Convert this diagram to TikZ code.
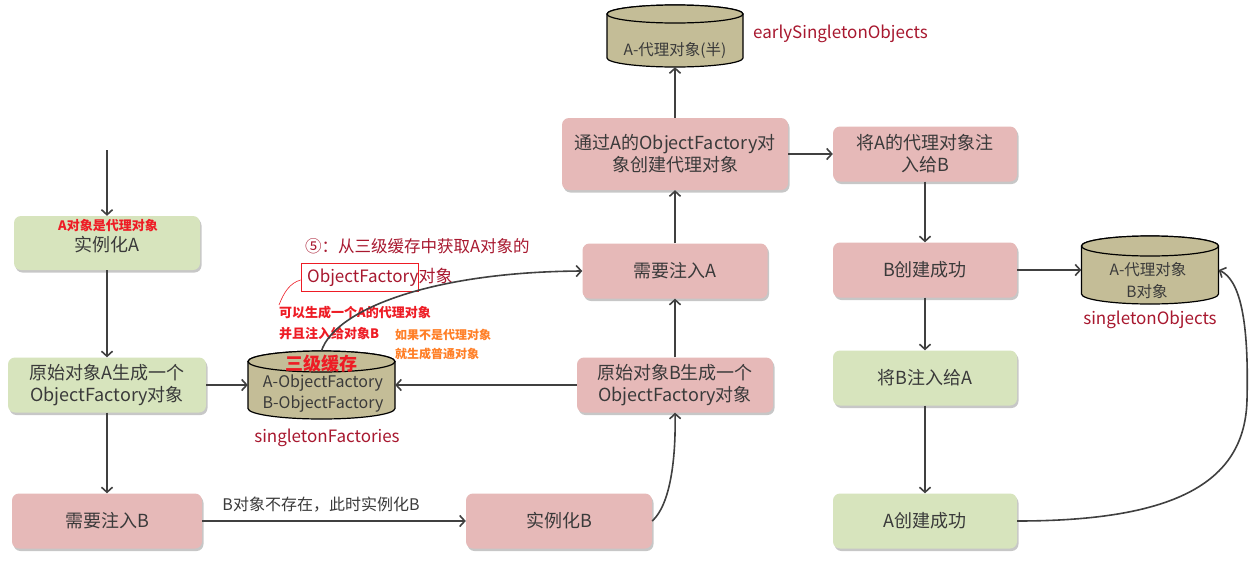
\documentclass[tikz,border=0pt]{standalone}
\usepackage{fontspec}
\setmainfont{Noto Sans CJK SC}
\usetikzlibrary{arrows.meta,shadows}
\definecolor{boxgreen}{HTML}{D7E4BD}
\definecolor{boxpink}{HTML}{E6B9B8}
\definecolor{cyltan}{HTML}{C4BD97}
\definecolor{txtgray}{HTML}{3A3A3A}
\definecolor{arrowgray}{HTML}{404040}
\definecolor{darkred}{HTML}{A8182F}
\definecolor{brightred}{HTML}{EE1C25}
\definecolor{orng}{HTML}{FF7F27}
\newcommand\mycyl[5]{%
  \pgfmathsetmacro\mycxl{#1-#3/2}\pgfmathsetmacro\mycxr{#1+#3/2}%
  \pgfmathsetmacro\mycyt{#2+#4/2-#5}\pgfmathsetmacro\mycyb{#2-#4/2+#5}%
  \pgfmathsetmacro\mycrx{#3/2}%
  \filldraw[cylstyle] (\mycxl,\mycyt) -- (\mycxl,\mycyb) arc[start angle=180,end angle=360,x radius=\mycrx,y radius=#5] -- (\mycxr,\mycyt) arc[start angle=0,end angle=180,x radius=\mycrx,y radius=#5] -- cycle;
  \draw[cylstyle] (#1,\mycyt) ellipse[x radius=\mycrx,y radius=#5];
}
\begin{document}
\begin{tikzpicture}[x=1pt,y=1pt,
  box/.style={rounded corners=7pt, minimum height=55pt, text=txtgray, inner sep=0pt,
    font=\fontsize{18}{22}\selectfont, align=center,
    drop shadow={shadow xshift=1.5pt,shadow yshift=-2.5pt,opacity=.22,fill=black}},
  gbox/.style={box, fill=boxgreen},
  pbox/.style={box, fill=boxpink},
  cylstyle/.style={fill=cyltan, draw=black, line width=1.2pt},
  cylnode/.style={inner sep=0pt, draw=none},
  cyltxt/.style={inner sep=0pt, text=txtgray, font=\fontsize{15.5}{18}\selectfont},
  lbl/.style={inner sep=0pt, text=darkred, font=\fontsize{17}{20}\selectfont},
  rednote/.style={inner sep=0pt, anchor=west, text=brightred, font=\bfseries\fontsize{13}{15}\selectfont},
  orgnote/.style={inner sep=0pt, anchor=west, text=orng, font=\bfseries\fontsize{12}{14}\selectfont},
  arr/.style={draw=arrowgray, line width=1.6pt, -{Straight Barb[length=5pt,width=11pt]}}
]
\useasboundingbox (0,0) rectangle (1251,-560);
\fill[white] (0,0) rectangle (1251,-560);

% cylinders
\mycyl{675}{-36}{136}{62}{9}
\node[cylnode, minimum width=136pt, minimum height=62pt] (early) at (675,-36) {};
\node[cyltxt] (earlytxt) at (675,-50) {A-代理对象(半)};
\node[lbl, anchor=west] (earlylbl) at (753,-34) {earlySingletonObjects};

\mycyl{321.5}{-385}{147}{68}{10.5}
\node[cylnode, minimum width=147pt, minimum height=68pt] (fac) at (321.5,-385) {};
\node[inner sep=0pt, text=brightred, font=\bfseries\fontsize{18}{20}\selectfont] (factitle) at (321.5,-364) {三级缓存};
\node[cyltxt, font=\fontsize{16}{18}\selectfont] (facA) at (323,-383) {A-ObjectFactory};
\node[cyltxt, font=\fontsize{16}{18}\selectfont] (facB) at (323,-404) {B-ObjectFactory};
\node[lbl] (faclbl) at (327,-438) {singletonFactories};

\mycyl{1150}{-270}{137}{68}{10}
\node[cylnode, minimum width=137pt, minimum height=68pt] (sObj) at (1150,-270) {};
\node[cyltxt] (sObjA) at (1148,-270) {A-代理对象};
\node[cyltxt] (sObjB) at (1147,-292) {B对象};
\node[lbl] (sObjlbl) at (1150,-320) {singletonObjects};

% boxes
\node[gbox, minimum width=186pt, minimum height=54pt] (instA) at (107,-243) {};
\node[inner sep=0pt, text=brightred, font=\bfseries\fontsize{13}{15}\selectfont] (instAnote) at (108,-226) {A对象是代理对象};
\node[inner sep=0pt, text=txtgray, font=\fontsize{18}{22}\selectfont] (instAtxt) at (107,-245) {实例化A};
\node[gbox, minimum width=198pt] (rawA) at (107,-385) {原始对象A生成一个\\ObjectFactory对象};
\node[pbox, minimum width=190pt] (needB) at (107,-521) {需要注入B};
\node[pbox, minimum width=186pt] (instB) at (559,-521) {实例化B};
\node[pbox, minimum width=196pt] (rawB) at (675,-385) {原始对象B生成一个\\ObjectFactory对象};
\node[pbox, minimum width=185pt] (needA) at (675,-271) {需要注入A};
\node[pbox, minimum width=226pt, minimum height=72pt] (viaA) at (675,-154) {通过A的ObjectFactory对\\象创建代理对象};
\node[pbox, minimum width=184pt] (injAB) at (925,-154) {将A的代理对象注\\入给B};
\node[pbox, minimum width=184pt] (Bok) at (925,-270) {B创建成功};
\node[gbox, minimum width=184pt] (injBA) at (925,-378) {将B注入给A};
\node[gbox, minimum width=184pt] (Aok) at (925,-521) {A创建成功};

% annotations
\node[inner sep=0pt, anchor=west, text=darkred, font=\fontsize{16.5}{20}\selectfont] (step5) at (305,-246) {⑤：从三级缓存中获取A对象的};
\node[inner sep=0pt, anchor=west, text=darkred, font=\fontsize{17}{20}\selectfont] (step5b) at (307,-277) {ObjectFactory对象};
\node[draw=brightred, line width=0.8pt, minimum width=117pt, minimum height=28pt, inner sep=0pt] (redbox) at (359.5,-277) {};
\node[rednote] (note1) at (279,-313) {可以生成一个A的代理对象};
\node[rednote] (note2) at (279,-334) {并且注入给对象B};
\node[orgnote] (note3) at (395,-335) {如果不是代理对象};
\node[orgnote] (note4) at (395,-354) {就生成普通对象};
\coordinate (squigend) at (279,-305);
\draw[brightred, line width=0.6pt] ([yshift=-3pt]redbox.west) .. controls (290,-283) and (284,-292) .. (squigend);

% connectors
\coordinate (topstart) at (107,-150);
\draw[arr] (topstart) -- (instA.north);
\draw[arr] (instA) -- (rawA);
\draw[arr] (rawA) -- (needB);
\draw[arr] (rawA) -- (fac);
\draw[arr] (needB) -- (instB);
\node[inner sep=0pt, text=txtgray, font=\fontsize{16}{18}\selectfont] (edgelbl) at (321,-505) {B对象不存在，此时实例化B};
\draw[arr] (instB.east) .. controls (670,-505) and (676,-460) .. (rawB.south);
\draw[arr] (rawB) -- (fac);
\draw[arr] (rawB) -- (needA);
\draw[arr] (fac.north) .. controls (335,-310) and (430,-272) .. (needA.west);
\draw[arr] (needA) -- (viaA);
\draw[arr] (viaA) -- (early);
\draw[arr] (viaA) -- (injAB);
\draw[arr] (injAB) -- (Bok);
\draw[arr] (Bok) -- (sObj);
\draw[arr] (Bok) -- (injBA);
\draw[arr] (injBA) -- (Aok);
\coordinate (sObjbend) at (1247,-400);
\draw[arr] (Aok.east) .. controls (1180,-521) and (1245,-480) .. (sObjbend) .. controls (1249,-320) and (1240,-280) .. (sObj.east);
\end{tikzpicture}
\end{document}
